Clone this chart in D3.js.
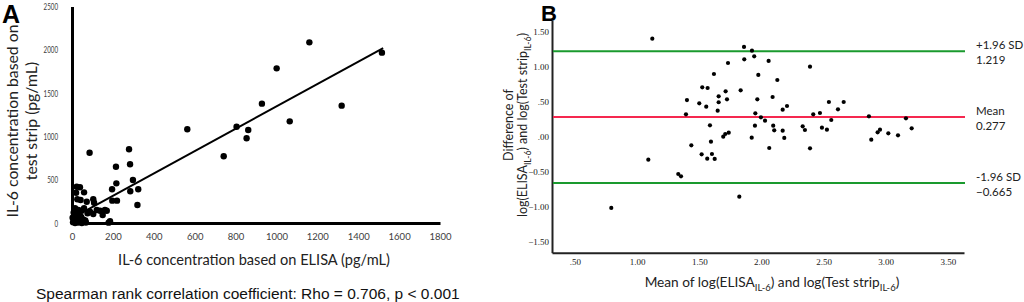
<!DOCTYPE html>
<html>
<head>
<meta charset="utf-8">
<script src="https://cdn.jsdelivr.net/npm/d3@7"></script>
<style>
  body { margin: 0; background: #fff; }
  svg { display: block; }
</style>
</head>
<body>
<svg id="chart" width="1024" height="302"></svg>
<script>
// panel A: ELISA vs test strip (pg/mL)
const elisaA = [1161, 1516, 1001, 929, 1319, 1065, 564, 805, 862, 854, 742, 86, 279, 215, 284, 298, 217, 196, 324, 285, 197, 220, 320, 186, 179,
  23, 39, 20, 59, 26, 42, 72, 104, 108, 15, 31, 47, 59, 88, 121, 137, 161, 170, 150, 104, 76,
  5, 10, 12, 18, 22, 28, 30, 35, 40, 45, 50, 55, 60, 65, 8, 15, 25, 38, 48, 3, 68]
const stripA = [2086, 1967, 1786, 1378, 1355, 1174, 1082, 1112, 1074, 978, 770, 812, 851, 650, 678, 497, 458, 389, 389, 366, 258, 258, 208, 20, 4,
  419, 412, 350, 354, 274, 266, 246, 274, 234, 170, 150, 142, 170, 131, 150, 142, 150, 142, 92, 104, 112,
  10, 40, 80, 20, 60, 100, 5, 45, 25, 70, 10, 40, 15, 30, 120, 0, 130, 90, 0, 60, 5]
const fitX = [52, 1522]
const fitSlope = 1.289
const fitIntercept = 57
const xTicksA = [0, 200, 400, 600, 800, 1000, 1200, 1400, 1600, 1800]
const yTicksA = [0, 500, 1000, 1500, 2000, 2500]

// panel B: Bland-Altman
const meanB = [1.122, 0.792, 1.090, 1.331, 1.353, 1.401, 1.393, 1.436, 1.524, 1.567, 1.500, 1.556, 1.618, 1.586, 1.594, 1.519, 1.602, 1.564, 1.624,
  1.656, 1.656, 1.648, 1.712, 1.723, 1.731, 1.693, 1.709, 1.737, 1.833, 1.822, 1.860, 1.924, 1.862, 1.942, 1.975, 1.967, 1.951, 1.996, 2.029,
  1.948, 1.922, 2.058, 2.128, 2.090, 2.095, 2.103, 2.063, 2.171, 2.206, 2.171, 2.184, 2.332, 2.350, 2.391, 2.391, 2.417, 2.471, 2.487, 2.527,
  2.543, 2.562, 2.616, 2.662, 2.865, 2.884, 2.935, 2.954, 3.021, 3.099, 3.163, 3.209]
const diffB = [1.397, -1.021, -0.331, -0.536, -0.569, 0.521, 0.317, -0.126, 0.703, 0.693, 0.474, 0.426, 0.893, 0.160, -0.074, -0.254, -0.250, -0.317, -0.321,
  0.574, 0.489, 0.369, 0.646, 0.531, 1.050, -0.003, 0.036, 0.055, 0.660, -0.860, 1.279, 1.226, 1.102, 1.145, 0.879, 0.531, 0.331, 0.274, 0.226,
  0.155, -0.017, 1.079, 0.807, 0.564, 0.155, 0.088, -0.164, 0.383, 0.436, 0.083, -0.021, 0.145, 0.093, 0.997, -0.169, 0.317, 0.336, 0.126, 0.098,
  0.493, 0.236, 0.388, 0.493, 0.288, -0.045, 0.060, 0.098, 0.045, 0.017, 0.260, 0.117]
const refLines = [
  {name: '+1.96 SD', value: 1.219, color: '#1a9a2e'},
  {name: 'Mean', value: 0.277, color: '#f5284f'},
  {name: '-1.96 SD', value: -0.665, color: '#1a9a2e'}
]
const xTicksB = [0.5, 1, 1.5, 2, 2.5, 3, 3.5]
const yTicksB = [-1.5, -1, -0.5, 0, 0.5, 1, 1.5]

const svg = d3.select('#chart')
const sans = 'Lato'

// shrink/grow a text (or tspan) so it spans the wanted width
const fitWidth = (sel, target) => {
  const w = sel.node().getComputedTextLength()
  const fs = +sel.attr('font-size')
  sel.attr('font-size', (fs * target / w).toFixed(2))
  return +sel.attr('font-size')
}

// ---------- panel A ----------
const xA = d3.scaleLinear().domain([0, 1800]).range([72, 440])
const yA = d3.scaleLinear().domain([0, 2500]).range([223, 6.5])

const gA = svg.append('g')

gA.append('g')
  .attr('transform', `translate(0, ${yA(0)})`)
  .call(d3.axisBottom(xA).tickValues(xTicksA).tickFormat(d3.format('d')).tickSize(0).tickSizeOuter(0).tickPadding(10))
  .call(g => g.select('.domain').attr('stroke', '#000').attr('stroke-width', 3))
  .call(g => g.selectAll('text').attr('font-family', sans).attr('font-size', 9.5).attr('fill', '#404040'))

gA.append('g')
  .attr('transform', `translate(${xA(0)}, 0)`)
  .call(d3.axisLeft(yA).tickValues(yTicksA).tickFormat(d3.format('d')).tickSize(0).tickSizeOuter(0).tickPadding(14))
  .call(g => g.select('.domain').attr('stroke', '#000').attr('stroke-width', 3))
  .call(g => g.selectAll('text').attr('font-family', sans).attr('font-size', 9.5).attr('fill', '#404040')
    .attr('textLength', d => String(d).length * 3.6).attr('lengthAdjust', 'spacingAndGlyphs'))

const fitLine = d3.line().x(d => xA(d)).y(d => yA(fitIntercept + fitSlope * d))
gA.append('path')
  .datum(fitX)
  .attr('fill', 'none')
  .attr('stroke', '#000')
  .attr('stroke-width', 2)
  .attr('d', fitLine)

gA.selectAll('circle')
  .data(elisaA)
  .join('circle')
  .attr('cx', d => xA(d))
  .attr('cy', (d, i) => yA(stripA[i]))
  .attr('r', 3.2)
  .attr('fill', '#000')

gA.append('text')
  .attr('x', 2).attr('y', 23)
  .attr('font-family', 'Liberation Sans').attr('font-weight', 'bold').attr('font-size', 25)
  .text('A')

const yTitleA = gA.append('text')
  .attr('transform', 'translate(0, 121) rotate(-90)')
  .attr('text-anchor', 'middle')
  .attr('font-family', sans).attr('fill', '#222')
const yA1 = yTitleA.append('tspan').attr('x', 0).attr('y', 18).attr('font-size', 15).text('IL-6 concentration based on')
const fsA = fitWidth(yA1, 193)
yTitleA.append('tspan').attr('x', 0).attr('y', 37).attr('font-size', fsA).text('test strip (pg/mL)')

const xTitleA = gA.append('text')
  .attr('x', 254).attr('y', 265)
  .attr('text-anchor', 'middle')
  .attr('font-family', sans).attr('font-size', 15).attr('fill', '#222')
  .text('IL-6 concentration based on ELISA (pg/mL)')
fitWidth(xTitleA, 272)

const spearman = gA.append('text')
  .attr('x', 36).attr('y', 299)
  .attr('font-family', 'Liberation Sans').attr('font-size', 16).attr('fill', '#111')
  .text('Spearman rank correlation coefficient: Rho = 0.706, p < 0.001')
fitWidth(spearman, 424)

// ---------- panel B ----------
const xB = d3.scaleLinear().domain([0.315, 3.63]).range([552, 964])
const yB = d3.scaleLinear().domain([-1.66, 1.66]).range([252.7, 20.3])
const fmtB = v => d3.format('.2f')(v).replace(/^(-?)0\./, '$1.')

const gB = svg.append('g')

gB.append('g')
  .attr('transform', `translate(0, ${yB.range()[0]})`)
  .call(d3.axisBottom(xB).tickValues(xTicksB).tickFormat(fmtB).tickSize(0).tickSizeOuter(0).tickPadding(6))
  .call(g => g.select('.domain').attr('stroke', '#222').attr('stroke-width', 2))
  .call(g => g.selectAll('text').attr('font-family', 'Liberation Serif').attr('font-size', 9).attr('fill', '#222'))

gB.append('g')
  .attr('transform', `translate(${xB.range()[0]}, 0)`)
  .call(d3.axisLeft(yB).tickValues(yTicksB).tickFormat(fmtB).tickSize(0).tickSizeOuter(0).tickPadding(3))
  .call(g => g.select('.domain').attr('stroke', '#222').attr('stroke-width', 2))
  .call(g => g.selectAll('text').attr('font-family', 'Liberation Serif').attr('font-size', 9).attr('fill', '#222'))

gB.selectAll('line.ref')
  .data(refLines)
  .join('line')
  .attr('class', 'ref')
  .attr('x1', xB.range()[0] + 1).attr('x2', xB.range()[1] + 1)
  .attr('y1', d => yB(d.value)).attr('y2', d => yB(d.value))
  .attr('stroke', d => d.color)
  .attr('stroke-width', 2)

const refLabels = gB.selectAll('text.ref')
  .data(refLines)
  .join('text')
  .attr('class', 'ref')
  .attr('font-family', sans).attr('font-size', 11.5).attr('fill', '#222')
refLabels.append('tspan')
  .attr('x', 976).attr('y', d => yB(d.value) - 2)
  .text(d => d.name)
refLabels.append('tspan')
  .attr('x', 976).attr('y', d => yB(d.value) + 13)
  .text(d => d3.format('.3f')(d.value))

gB.selectAll('circle')
  .data(meanB)
  .join('circle')
  .attr('cx', d => xB(d))
  .attr('cy', (d, i) => yB(diffB[i]))
  .attr('r', 2.1)
  .attr('fill', '#000')

gB.append('text')
  .attr('x', 541).attr('y', 21)
  .attr('font-family', 'Liberation Sans').attr('font-weight', 'bold').attr('font-size', 22)
  .text('B')

// text with IL-6 subscripts: parts alternate normal / subscript
const withSubs = (sel, parts) => {
  parts.forEach((p, i) => {
    const t = sel.append('tspan').text(p)
    if (i % 2 === 1) t.attr('font-size', '70%').attr('dy', 4)
    else if (i > 0) t.attr('dy', -4)
  })
  return sel
}

const yTitleB = gB.append('text')
  .attr('transform', 'translate(0, 125) rotate(-90)')
  .attr('text-anchor', 'middle')
  .attr('font-family', sans).attr('fill', '#222')
const yB2 = yTitleB.append('tspan').attr('x', 0).attr('y', 527).attr('font-size', 14)
withSubs(yB2, ['log(ELISA', 'IL-6', ') and log(Test strip', 'IL-6', ')'])
const fsB = fitWidth(yB2, 184)
yTitleB.append('tspan').attr('x', 0).attr('y', 513).attr('font-size', fsB).text('Difference of')

const xTitleB = gB.append('text')
  .attr('x', 772).attr('y', 287)
  .attr('text-anchor', 'middle')
  .attr('font-family', sans).attr('font-size', 15).attr('fill', '#222')
withSubs(xTitleB, ['Mean of log(ELISA', 'IL-6', ') and log(Test strip', 'IL-6', ')'])
fitWidth(xTitleB, 255)
</script>
</body>
</html>
